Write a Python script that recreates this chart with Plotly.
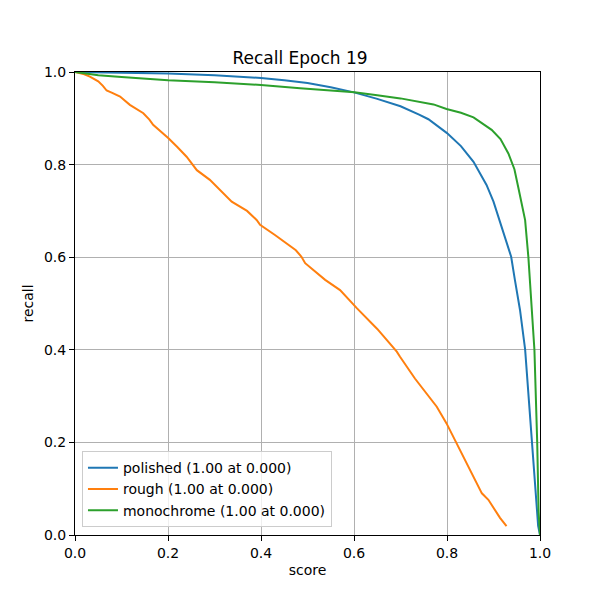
import plotly.graph_objects as go

polished_x = [0, 0.1, 0.2, 0.3, 0.4, 0.45, 0.5, 0.55, 0.6, 0.65, 0.7, 0.74, 0.76, 0.8, 0.83, 0.857, 0.885, 0.9, 0.921, 0.938, 0.946, 0.957, 0.968, 0.975, 0.983, 0.99, 0.996, 1.0]
polished_y = [1.0, 0.999, 0.997, 0.993, 0.987, 0.982, 0.976, 0.967, 0.956, 0.942, 0.926, 0.908, 0.898, 0.868, 0.84, 0.806, 0.756, 0.72, 0.652, 0.601, 0.551, 0.486, 0.401, 0.31, 0.2, 0.1, 0.02, 0.0]

rough_x = [0, 0.02, 0.032, 0.05, 0.06, 0.068, 0.08, 0.097, 0.105, 0.118, 0.147, 0.16, 0.168, 0.201, 0.22, 0.24, 0.262, 0.29, 0.337, 0.37, 0.391, 0.398, 0.43, 0.455, 0.475, 0.487, 0.495, 0.538, 0.57, 0.606, 0.65, 0.692, 0.699, 0.731, 0.778, 0.799, 0.828, 0.875, 0.889, 0.914, 0.928]
rough_y = [1.0, 0.995, 0.99, 0.98, 0.97, 0.96, 0.955, 0.947, 0.94, 0.929, 0.911, 0.897, 0.886, 0.857, 0.838, 0.817, 0.788, 0.767, 0.72, 0.70, 0.68, 0.67, 0.648, 0.63, 0.615, 0.601, 0.587, 0.551, 0.529, 0.49, 0.445, 0.396, 0.385, 0.338, 0.277, 0.241, 0.184, 0.09, 0.076, 0.037, 0.019]

mono_x = [0, 0.05, 0.1, 0.161, 0.2, 0.3, 0.4, 0.484, 0.55, 0.601, 0.65, 0.7, 0.771, 0.799, 0.83, 0.857, 0.896, 0.915, 0.932, 0.945, 0.953, 0.968, 0.975, 0.98, 0.985, 0.988, 0.994, 0.997, 1.0]
mono_y = [1.0, 0.993, 0.989, 0.984, 0.982, 0.978, 0.972, 0.965, 0.96, 0.956, 0.95, 0.943, 0.930, 0.920, 0.912, 0.902, 0.875, 0.855, 0.824, 0.79, 0.752, 0.680, 0.60, 0.52, 0.45, 0.40, 0.2, 0.05, 0.0]

names = ["polished (1.00 at 0.000)", "rough (1.00 at 0.000)", "monochrome (1.00 at 0.000)"]
colors = ["#1f77b4", "#ff7f0e", "#2ca02c"]
ticks = [0.0, 0.2, 0.4, 0.6, 0.8, 1.0]
tick_text = ["0.0", "0.2", "0.4", "0.6", "0.8", "1.0"]

fig = go.Figure()
for xs, ys, n, c in zip([polished_x, rough_x, mono_x], [polished_y, rough_y, mono_y], names, colors):
    fig.add_trace(go.Scatter(x=xs, y=ys, mode="lines", name=n, line=dict(color=c, width=2)))

axis_common = dict(
    range=[0, 1], tickvals=ticks, ticktext=tick_text,
    showgrid=True, gridcolor="#b0b0b0", gridwidth=1,
    showline=True, linecolor="black", linewidth=1, mirror=True,
    ticks="outside", ticklen=5, tickcolor="black", tickwidth=1,
    zeroline=False, tickfont=dict(size=14, color="black"),
)

fig.update_layout(
    width=600, height=600,
    margin=dict(l=75, r=60, t=72, b=65),
    paper_bgcolor="white", plot_bgcolor="white",
    font=dict(family="DejaVu Sans", size=14, color="black"),
    title=dict(text="Recall Epoch 19", x=0.5, xanchor="center", y=1 - 58 / 600, yanchor="middle",
               font=dict(size=17, color="black")),
    xaxis=dict(**axis_common, title=dict(text="score", standoff=5, font=dict(size=14))),
    yaxis=dict(**axis_common, title=dict(text="recall", standoff=7, font=dict(size=14))),
    legend=dict(x=0.015, y=0.017, xanchor="left", yanchor="bottom",
                bgcolor="rgba(255,255,255,0.8)", bordercolor="#cccccc", borderwidth=1,
                font=dict(size=14), tracegroupgap=0, itemwidth=30),
    showlegend=True,
)

fig.write_html("out.html")
